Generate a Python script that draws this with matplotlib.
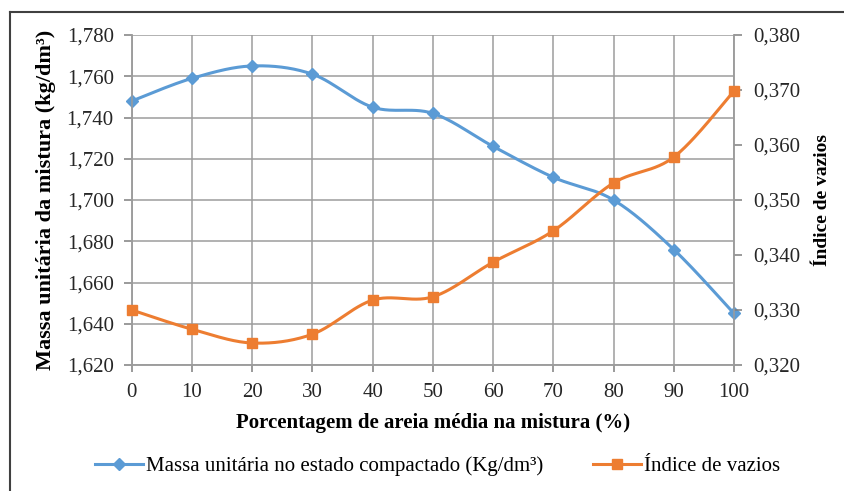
import numpy as np
import matplotlib
matplotlib.use("Agg")
import matplotlib.pyplot as plt
from matplotlib.lines import Line2D

plt.rcParams['font.family'] = ['Liberation Serif', 'DejaVu Serif']

# Percentage of medium sand in the mix
areia = [0, 10, 20, 30, 40, 50, 60, 70, 80, 90, 100]
# Unit mass in compacted state (kg/dm3)
massa = [1.748, 1.759, 1.765, 1.761, 1.745, 1.742, 1.726, 1.711, 1.700, 1.676, 1.645]
# Void index
vazios = [0.3300, 0.3265, 0.3240, 0.3256, 0.3318, 0.3324, 0.3387, 0.3444, 0.3531, 0.3578, 0.3698]

left_ticks = [1.620, 1.640, 1.660, 1.680, 1.700, 1.720, 1.740, 1.760, 1.780]
right_ticks = [0.320, 0.330, 0.340, 0.350, 0.360, 0.370, 0.380]

BLUE = '#5B9BD5'
ORANGE = '#ED7D31'


def smooth(x, y, n=30):
    """Bezier smoothing through the points (Catmull-Rom style control points)."""
    x = np.asarray(x, float)
    y = np.asarray(y, float)
    pts = np.column_stack([x, y])
    out = []
    for i in range(len(pts) - 1):
        p0 = pts[i - 1] if i > 0 else pts[i]
        p1 = pts[i]
        p2 = pts[i + 1]
        p3 = pts[i + 2] if i + 2 < len(pts) else pts[i + 1]
        c1 = p1 + (p2 - p0) / 6.0
        c2 = p2 - (p3 - p1) / 6.0
        t = np.linspace(0, 1, n)[:, None]
        seg = ((1 - t) ** 3) * p1 + 3 * ((1 - t) ** 2) * t * c1 + 3 * (1 - t) * t ** 2 * c2 + t ** 3 * p2
        out.append(seg if i == 0 else seg[1:])
    s = np.vstack(out)
    return s[:, 0], s[:, 1]


def fmt(v, d):
    return f"{v:.{d}f}".replace('.', ',')


fig = plt.figure(figsize=(8.45, 4.91), dpi=100)
ax = fig.add_axes([0.156, 0.2566, 0.7126, 0.6721])
ax2 = ax.twinx()

grid_c = '#9c9c9c'
FS = 15

ax.set_xlim(0, 100)
ax.set_ylim(1.620, 1.780)
ax2.set_ylim(0.320, 0.380)

ax.set_xticks(areia)
ax.set_xticklabels([str(v) for v in areia], fontsize=FS)
ax.set_yticks(left_ticks)
ax.set_yticklabels([fmt(v, 3) for v in left_ticks], fontsize=FS)
ax2.set_yticks(right_ticks)
ax2.set_yticklabels([fmt(v, 3) for v in right_ticks], fontsize=FS)

ax.grid(True, color=grid_c, linewidth=1.1)
ax.set_axisbelow(True)

for a in (ax, ax2):
    for sp in a.spines.values():
        sp.set_color(grid_c)
        sp.set_linewidth(1.1)
    a.tick_params(colors='#7f7f7f', labelcolor='#262626', length=6, width=1.1)
ax.spines['top'].set_visible(False)
ax2.spines['top'].set_visible(False)
ax.tick_params(axis='x', length=5, pad=8)
ax.tick_params(axis='y', pad=7)
ax2.tick_params(axis='y', pad=8)

# unit mass curve
xs, ys = smooth(areia, massa)
ax.plot(xs, ys, color=BLUE, linewidth=2.2, zorder=3, clip_on=False)
ax.plot(areia, massa, linestyle='none', marker='D', markersize=6.5,
        color=BLUE, zorder=4, clip_on=False)

# void index curve
xs2, ys2 = smooth(areia, vazios)
ax2.plot(xs2, ys2, color=ORANGE, linewidth=2.2, zorder=3, clip_on=False)
ax2.plot(areia, vazios, linestyle='none', marker='s', markersize=7.5,
         color=ORANGE, zorder=4, clip_on=False)

ax.set_ylabel('Massa unitária da mistura (kg/dm³)', fontsize=16,
              fontweight='bold', labelpad=8)
ax2.set_ylabel('Índice de vazios', fontsize=14, fontweight='bold',
               rotation=90, labelpad=10)
ax.set_xlabel('Porcentagem de areia média na mistura (%)', fontsize=FS,
              fontweight='bold', labelpad=8)

handles = [
    Line2D([], [], color=BLUE, linewidth=2.2, marker='D', markersize=6.5),
    Line2D([], [], color=ORANGE, linewidth=2.2, marker='s', markersize=7.5),
]
labels = ['Massa unitária no estado compactado (Kg/dm³)', 'Índice de vazios']
fig.legend(handles, labels, loc='center', bbox_to_anchor=(0.518, 0.051),
           ncol=2, frameon=False, fontsize=FS, handlelength=2.3,
           handletextpad=0.15, columnspacing=2.4)

# outer frame
fig.add_artist(Line2D([10 / 845, 10 / 845], [0, 1 - 12 / 491],
                      transform=fig.transFigure, color='#404040', linewidth=1.5))
fig.add_artist(Line2D([10 / 845, 1], [1 - 12 / 491, 1 - 12 / 491],
                      transform=fig.transFigure, color='#404040', linewidth=1.5))

fig.savefig('out.png', dpi=100)
